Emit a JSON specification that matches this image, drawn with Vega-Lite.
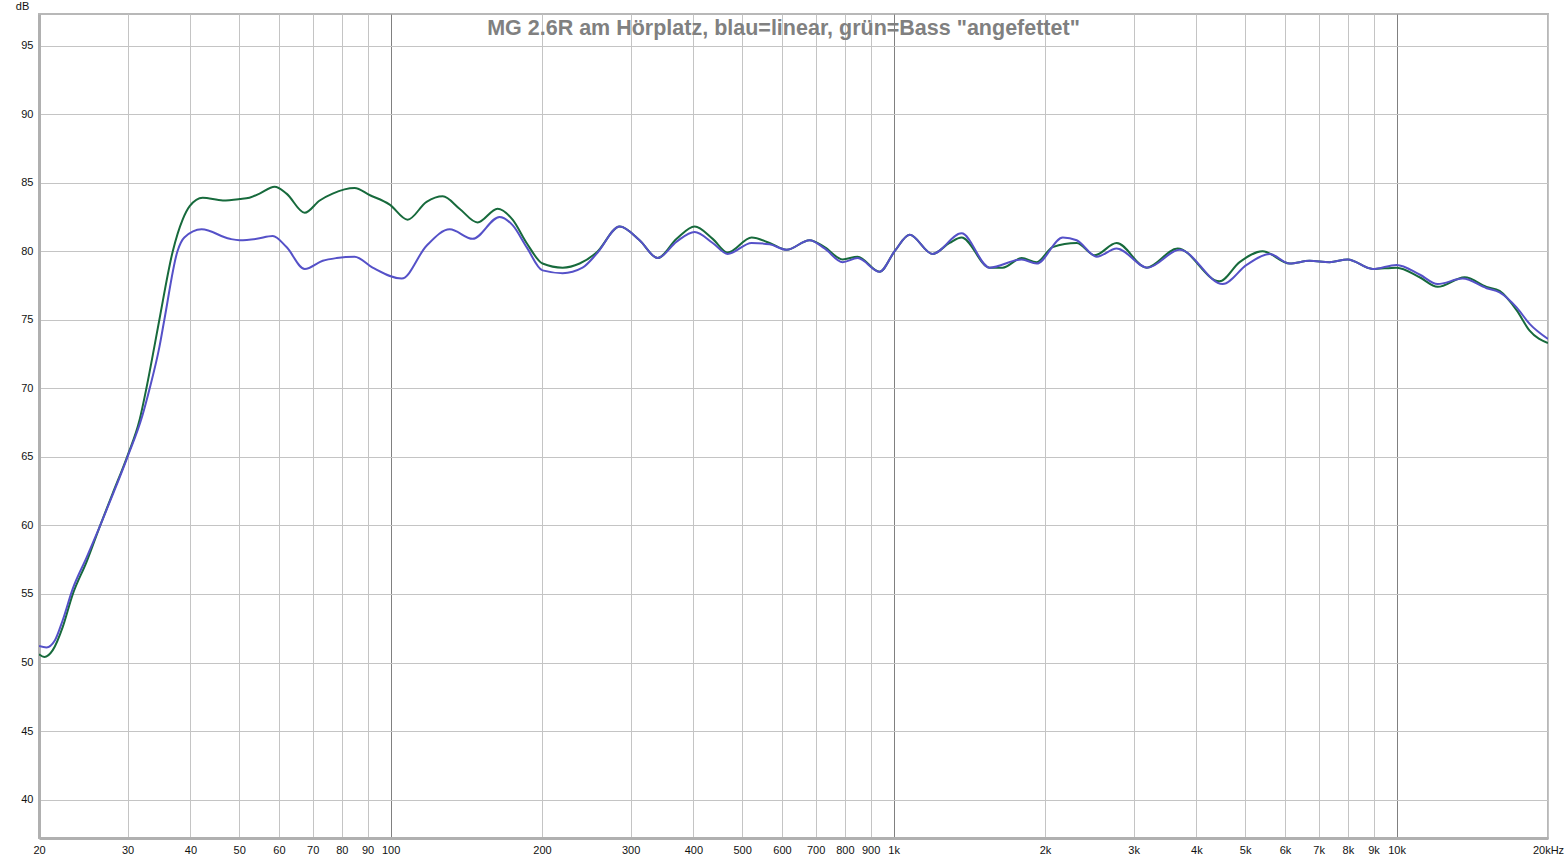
{
  "$schema": "https://vega.github.io/schema/vega-lite/v6.json",
  "width": 1509,
  "height": 824,
  "autosize": {"type": "none"},
  "padding": {"left": 39, "top": 14, "right": 19, "bottom": 22},
  "background": "white",
  "title": {
    "text": "MG 2.6R am Hörplatz, blau=linear, grün=Bass \"angefettet\"",
    "font": "Liberation Sans",
    "fontSize": 21.5,
    "fontWeight": "bold",
    "color": "#808080",
    "anchor": "middle",
    "frame": "group",
    "offset": -39,
    "dx": -10
  },
  "config": {
    "view": {"stroke": "#b8b8b8", "strokeWidth": 2},
    "axis": {
      "labelFont": "Liberation Sans",
      "labelFontSize": 11,
      "labelColor": "#111111",
      "ticks": false,
      "domainColor": "#b0b0b0",
      "domainWidth": 3,
      "labelFlush": false,
      "labelOverlap": false
    }
  },
  "data": {
    "values": [
      {"f": 20, "db": 50.6, "k": "g"},
      {"f": 20.5, "db": 50.4, "k": "g"},
      {"f": 21.3, "db": 50.9, "k": "g"},
      {"f": 22.3, "db": 52.6, "k": "g"},
      {"f": 23.3, "db": 54.9, "k": "g"},
      {"f": 24.9, "db": 57.4, "k": "g"},
      {"f": 26.4, "db": 59.9, "k": "g"},
      {"f": 28.0, "db": 62.3, "k": "g"},
      {"f": 30.0, "db": 65.1, "k": "g"},
      {"f": 31.7, "db": 67.7, "k": "g"},
      {"f": 32.7, "db": 70.0, "k": "g"},
      {"f": 33.9, "db": 73.0, "k": "g"},
      {"f": 34.7, "db": 75.0, "k": "g"},
      {"f": 36.9, "db": 80.0, "k": "g"},
      {"f": 38.6, "db": 82.3, "k": "g"},
      {"f": 39.9, "db": 83.3, "k": "g"},
      {"f": 42.3, "db": 83.9, "k": "g"},
      {"f": 46.4, "db": 83.7, "k": "g"},
      {"f": 50.1, "db": 83.8, "k": "g"},
      {"f": 52.4, "db": 83.9, "k": "g"},
      {"f": 54.9, "db": 84.2, "k": "g"},
      {"f": 58.8, "db": 84.7, "k": "g"},
      {"f": 62.1, "db": 84.2, "k": "g"},
      {"f": 67.5, "db": 82.8, "k": "g"},
      {"f": 72.3, "db": 83.7, "k": "g"},
      {"f": 76.7, "db": 84.2, "k": "g"},
      {"f": 84.8, "db": 84.6, "k": "g"},
      {"f": 90.8, "db": 84.1, "k": "g"},
      {"f": 99.6, "db": 83.4, "k": "g"},
      {"f": 108.1, "db": 82.3, "k": "g"},
      {"f": 117.9, "db": 83.6, "k": "g"},
      {"f": 127.0, "db": 84.0, "k": "g"},
      {"f": 137.1, "db": 83.1, "k": "g"},
      {"f": 148.9, "db": 82.1, "k": "g"},
      {"f": 163.2, "db": 83.1, "k": "g"},
      {"f": 174.8, "db": 82.3, "k": "g"},
      {"f": 186.4, "db": 80.6, "k": "g"},
      {"f": 200.5, "db": 79.1, "k": "g"},
      {"f": 219.8, "db": 78.8, "k": "g"},
      {"f": 237.6, "db": 79.1, "k": "g"},
      {"f": 256.7, "db": 79.9, "k": "g"},
      {"f": 285.4, "db": 81.8, "k": "g"},
      {"f": 312.6, "db": 80.8, "k": "g"},
      {"f": 339.5, "db": 79.5, "k": "g"},
      {"f": 370.4, "db": 80.9, "k": "g"},
      {"f": 402.3, "db": 81.8, "k": "g"},
      {"f": 436.9, "db": 80.9, "k": "g"},
      {"f": 467.9, "db": 79.9, "k": "g"},
      {"f": 522.1, "db": 81.0, "k": "g"},
      {"f": 567.0, "db": 80.6, "k": "g"},
      {"f": 612.8, "db": 80.1, "k": "g"},
      {"f": 680.8, "db": 80.8, "k": "g"},
      {"f": 729.1, "db": 80.3, "k": "g"},
      {"f": 791.9, "db": 79.4, "k": "g"},
      {"f": 848.2, "db": 79.6, "k": "g"},
      {"f": 938.2, "db": 78.5, "k": "g"},
      {"f": 1005, "db": 80.0, "k": "g"},
      {"f": 1076, "db": 81.2, "k": "g"},
      {"f": 1195, "db": 79.8, "k": "g"},
      {"f": 1292, "db": 80.6, "k": "g"},
      {"f": 1365, "db": 81.0, "k": "g"},
      {"f": 1552, "db": 78.8, "k": "g"},
      {"f": 1647, "db": 78.8, "k": "g"},
      {"f": 1797, "db": 79.5, "k": "g"},
      {"f": 1925, "db": 79.2, "k": "g"},
      {"f": 2071, "db": 80.3, "k": "g"},
      {"f": 2312, "db": 80.6, "k": "g"},
      {"f": 2511, "db": 79.7, "k": "g"},
      {"f": 2776, "db": 80.6, "k": "g"},
      {"f": 3184, "db": 78.8, "k": "g"},
      {"f": 3670, "db": 80.2, "k": "g"},
      {"f": 4447, "db": 77.8, "k": "g"},
      {"f": 4875, "db": 79.2, "k": "g"},
      {"f": 5416, "db": 80.0, "k": "g"},
      {"f": 6130, "db": 79.1, "k": "g"},
      {"f": 6714, "db": 79.3, "k": "g"},
      {"f": 7359, "db": 79.2, "k": "g"},
      {"f": 7993, "db": 79.4, "k": "g"},
      {"f": 8962, "db": 78.7, "k": "g"},
      {"f": 10000, "db": 78.8, "k": "g"},
      {"f": 11110, "db": 78.1, "k": "g"},
      {"f": 12066, "db": 77.4, "k": "g"},
      {"f": 13654, "db": 78.1, "k": "g"},
      {"f": 15099, "db": 77.4, "k": "g"},
      {"f": 16025, "db": 77.1, "k": "g"},
      {"f": 17320, "db": 75.7, "k": "g"},
      {"f": 18386, "db": 74.2, "k": "g"},
      {"f": 20000, "db": 73.3, "k": "g"},

      {"f": 20, "db": 51.2, "k": "b"},
      {"f": 20.7, "db": 51.1, "k": "b"},
      {"f": 21.5, "db": 51.6, "k": "b"},
      {"f": 22.3, "db": 53.1, "k": "b"},
      {"f": 23.3, "db": 55.3, "k": "b"},
      {"f": 24.9, "db": 57.7, "k": "b"},
      {"f": 26.4, "db": 59.9, "k": "b"},
      {"f": 28.0, "db": 62.2, "k": "b"},
      {"f": 30.0, "db": 65.0, "k": "b"},
      {"f": 32.1, "db": 68.0, "k": "b"},
      {"f": 33.2, "db": 70.0, "k": "b"},
      {"f": 34.7, "db": 73.0, "k": "b"},
      {"f": 35.5, "db": 75.0, "k": "b"},
      {"f": 37.7, "db": 80.0, "k": "b"},
      {"f": 38.9, "db": 81.0, "k": "b"},
      {"f": 42.1, "db": 81.6, "k": "b"},
      {"f": 47.9, "db": 80.9, "k": "b"},
      {"f": 50.1, "db": 80.8, "k": "b"},
      {"f": 54.2, "db": 80.9, "k": "b"},
      {"f": 58.3, "db": 81.1, "k": "b"},
      {"f": 62.1, "db": 80.3, "k": "b"},
      {"f": 67.5, "db": 78.7, "k": "b"},
      {"f": 73.3, "db": 79.3, "k": "b"},
      {"f": 78.1, "db": 79.5, "k": "b"},
      {"f": 84.8, "db": 79.6, "k": "b"},
      {"f": 92.1, "db": 78.8, "k": "b"},
      {"f": 105.2, "db": 78.0, "k": "b"},
      {"f": 117.9, "db": 80.4, "k": "b"},
      {"f": 131.1, "db": 81.6, "k": "b"},
      {"f": 145.6, "db": 80.9, "k": "b"},
      {"f": 164.7, "db": 82.5, "k": "b"},
      {"f": 174.8, "db": 81.9, "k": "b"},
      {"f": 186.4, "db": 80.3, "k": "b"},
      {"f": 200.5, "db": 78.6, "k": "b"},
      {"f": 219.8, "db": 78.4, "k": "b"},
      {"f": 240.8, "db": 78.8, "k": "b"},
      {"f": 256.7, "db": 79.8, "k": "b"},
      {"f": 285.4, "db": 81.8, "k": "b"},
      {"f": 312.6, "db": 80.8, "k": "b"},
      {"f": 339.5, "db": 79.5, "k": "b"},
      {"f": 370.4, "db": 80.7, "k": "b"},
      {"f": 402.3, "db": 81.4, "k": "b"},
      {"f": 436.9, "db": 80.6, "k": "b"},
      {"f": 467.9, "db": 79.8, "k": "b"},
      {"f": 522.1, "db": 80.6, "k": "b"},
      {"f": 567.0, "db": 80.5, "k": "b"},
      {"f": 612.8, "db": 80.1, "k": "b"},
      {"f": 680.8, "db": 80.8, "k": "b"},
      {"f": 729.1, "db": 80.2, "k": "b"},
      {"f": 791.9, "db": 79.2, "k": "b"},
      {"f": 848.2, "db": 79.5, "k": "b"},
      {"f": 938.2, "db": 78.5, "k": "b"},
      {"f": 1005, "db": 80.0, "k": "b"},
      {"f": 1076, "db": 81.2, "k": "b"},
      {"f": 1195, "db": 79.8, "k": "b"},
      {"f": 1365, "db": 81.3, "k": "b"},
      {"f": 1552, "db": 78.8, "k": "b"},
      {"f": 1797, "db": 79.4, "k": "b"},
      {"f": 1925, "db": 79.1, "k": "b"},
      {"f": 2170, "db": 81.0, "k": "b"},
      {"f": 2312, "db": 80.8, "k": "b"},
      {"f": 2535, "db": 79.6, "k": "b"},
      {"f": 2776, "db": 80.2, "k": "b"},
      {"f": 3197, "db": 78.8, "k": "b"},
      {"f": 3704, "db": 80.1, "k": "b"},
      {"f": 4511, "db": 77.6, "k": "b"},
      {"f": 5034, "db": 79.0, "k": "b"},
      {"f": 5592, "db": 79.8, "k": "b"},
      {"f": 6130, "db": 79.1, "k": "b"},
      {"f": 6714, "db": 79.3, "k": "b"},
      {"f": 7359, "db": 79.2, "k": "b"},
      {"f": 7993, "db": 79.4, "k": "b"},
      {"f": 8962, "db": 78.7, "k": "b"},
      {"f": 10000, "db": 79.0, "k": "b"},
      {"f": 11110, "db": 78.3, "k": "b"},
      {"f": 12066, "db": 77.6, "k": "b"},
      {"f": 13528, "db": 78.0, "k": "b"},
      {"f": 15099, "db": 77.3, "k": "b"},
      {"f": 16025, "db": 77.0, "k": "b"},
      {"f": 17320, "db": 75.9, "k": "b"},
      {"f": 18386, "db": 74.7, "k": "b"},
      {"f": 20000, "db": 73.6, "k": "b"}
    ]
  },
  "encoding": {
    "x": {
      "field": "f",
      "type": "quantitative",
      "scale": {"type": "log", "domain": [20, 20000], "nice": false},
      "axis": {
        "title": null,
        "values": [20, 30, 40, 50, 60, 70, 80, 90, 100, 200, 300, 400, 500, 600, 700, 800, 900, 1000, 2000, 3000, 4000, 5000, 6000, 7000, 8000, 9000, 10000, 20000],
        "labelExpr": "datum.value >= 20000 ? '20kHz' : (datum.value >= 1000 ? (datum.value / 1000) + 'k' : '' + datum.value)",
        "labelPadding": 6,
        "gridColor": {"condition": {"test": "datum.value == 100 || datum.value == 1000 || datum.value == 10000", "value": "#808080"}, "value": "#c4c4c4"},
        "gridWidth": 1
      }
    },
    "y": {
      "field": "db",
      "type": "quantitative",
      "scale": {"domain": [37.2, 97.3], "nice": false, "zero": false},
      "axis": {
        "title": "dB",
        "titleAngle": 0,
        "titleX": -17,
        "titleY": -3,
        "titleAlign": "center",
        "titleBaseline": "bottom",
        "titleFont": "Liberation Sans",
        "titleFontSize": 11,
        "titleFontWeight": "normal",
        "titleColor": "#111111",
        "values": [40, 45, 50, 55, 60, 65, 70, 75, 80, 85, 90, 95],
        "labelPadding": 6,
        "gridColor": "#c4c4c4",
        "gridWidth": 1
      }
    }
  },
  "layer": [
    {
      "transform": [{"filter": "datum.k == 'g'"}],
      "mark": {"type": "line", "color": "#176a3c", "strokeWidth": 2, "interpolate": "monotone", "clip": true}
    },
    {
      "transform": [{"filter": "datum.k == 'b'"}],
      "mark": {"type": "line", "color": "#5551c8", "strokeWidth": 2, "interpolate": "monotone", "clip": true}
    }
  ]
}
